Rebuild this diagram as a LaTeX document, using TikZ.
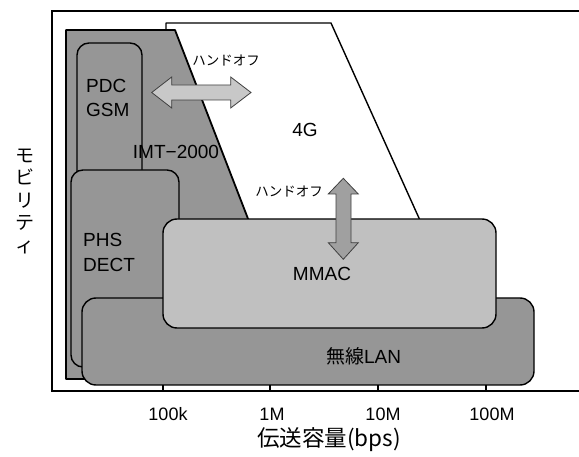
\documentclass[tikz,border=0pt]{standalone}
\usepackage{fontspec}
\setmainfont{Liberation Sans}
\newfontfamily\jp{Noto Sans CJK JP}
\definecolor{gdark}{RGB}{150,150,150}
\definecolor{glight}{RGB}{192,192,192}
\definecolor{garrowa}{RGB}{200,200,200}
\definecolor{garrowb}{RGB}{160,160,160}
\tikzset{
  region/.style={draw=black, line width=1.4pt, line join=round},
  rbox/.style={region, rounded corners=12pt},
  harrow/.style={draw=black!75, line width=0.8pt, line join=miter},
  big/.style={font=\fontsize{19}{24.5}\selectfont, inner sep=0pt},
  small/.style={font=\jp\fontsize{13.5}{15}\selectfont, inner sep=0pt},
  tick/.style={font=\fontsize{18}{20}\selectfont, inner sep=0pt},
}
\begin{document}
\begin{tikzpicture}[x=1pt, y=-1pt]
\useasboundingbox (0,0) rectangle (579,457);
% frame (open to the right)
\draw[line width=1.5pt] (579,11) -- (52,11) -- (52,391) -- (579,391);
% ticks
\foreach \t in {163,270,378,486} \draw[line width=1.3pt] (\t,385) -- (\t,391);
% 4G region
\filldraw[region, fill=white] (166,40) -- (166,23) -- (331,23) -- (437,258) -- (166,258) -- cycle;
% IMT-2000 region
\filldraw[region, line width=1.8pt, fill=gdark] (66,379) -- (66,30) -- (175,30) -- (310,379) -- cycle;
% PDC / GSM box
\filldraw[rbox, fill=gdark] (77,360) rectangle (142,43);
% PHS / DECT box
\filldraw[rbox, fill=gdark] (71,367) rectangle (179,170);
% wireless LAN box
\filldraw[rbox, rounded corners=14pt, fill=gdark] (82,298) rectangle (534,385);
% MMAC box
\filldraw[rbox, rounded corners=14pt, fill=glight] (163,219) rectangle (496,328);
% handoff arrows
\filldraw[harrow, fill=garrowa] (151.7,92.5) -- (171.7,77) -- (171.7,85) -- (230.7,85) -- (230.7,77)
  -- (251,92.5) -- (230.7,108) -- (230.7,100) -- (171.7,100) -- (171.7,108) -- cycle;
\filldraw[harrow, fill=garrowb] (343.3,178.3) -- (358.3,194) -- (351,194) -- (351,242.7) -- (358.3,242.7)
  -- (343.3,259.3) -- (328.3,242.7) -- (336,242.7) -- (336,194) -- (328.3,194) -- cycle;
% labels
\node[big, anchor=west, align=left] (pdc) at (86,98) {PDC\\GSM};
\node[big, anchor=west, align=left] (phs) at (83,252.5) {PHS\\DECT};
\node[big] (imt) at (176,152) {IMT−2000};
\node[big] (g4) at (305,130) {4G};
\node[big] (mmac) at (322,274) {MMAC};
\node[big] (wlan) at (363.5,356) {{\jp 無線}LAN};
\node[small] (ho1) at (226,61) {ハンドオフ};
\node[small] (ho2) at (289,192) {ハンドオフ};
\node[tick] (t1) at (168,414) {100k};
\node[tick] (t2) at (272,414) {1M};
\node[tick] (t3) at (383,414) {10M};
\node[tick] (t4) at (492,414) {100M};
\node[font=\jp\fontsize{22.5}{24}\selectfont, inner sep=0pt] (xlab) at (329,440) {伝送容量(bps)};
\node[font=\jp\fontsize{19}{22.5}\selectfont, inner sep=0pt, align=center] (ylab) at (25,201) {モ\\ビ\\リ\\テ\\ィ};
\end{tikzpicture}
\end{document}
